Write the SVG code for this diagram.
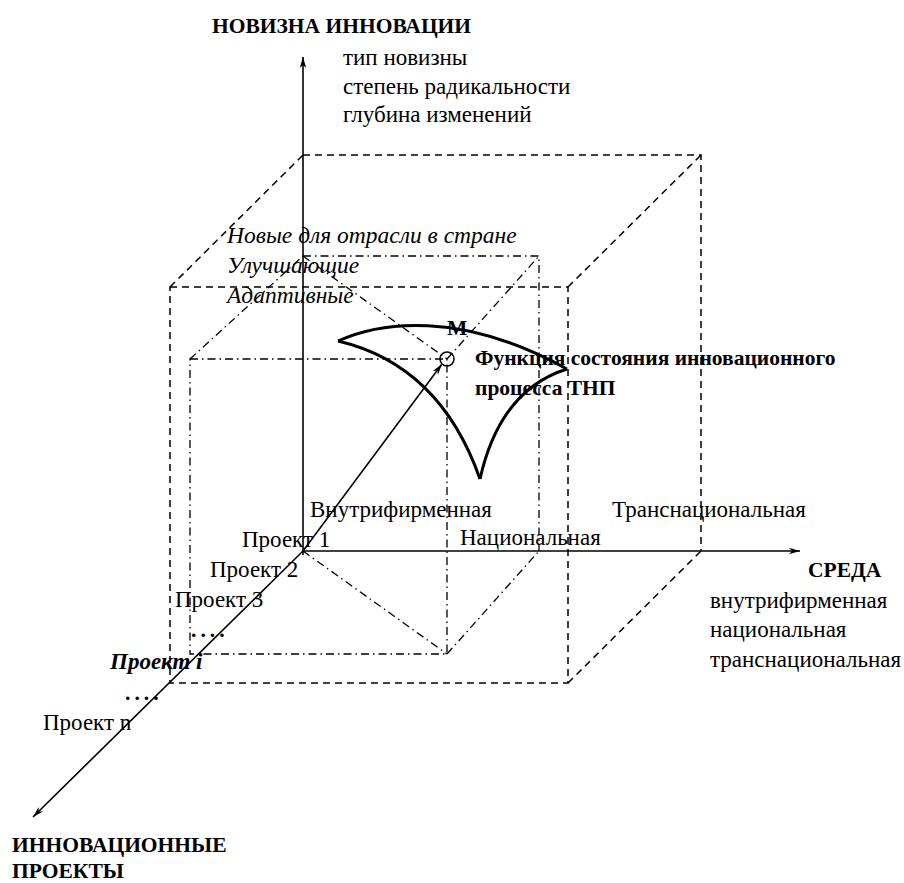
<svg xmlns="http://www.w3.org/2000/svg" width="904" height="883" viewBox="0 0 904 883">
<style>
text{font-family:"Liberation Serif","Times New Roman",serif;font-size:23px;fill:#000}
.b{font-weight:bold;font-size:21.5px}
.i{font-style:italic;font-size:23.5px}
.bi{font-weight:bold;font-style:italic;font-size:23px}
.axis{stroke:#000;stroke-width:1.6;fill:none}
.dash{stroke:#000;stroke-width:1.5;fill:none;stroke-dasharray:7 5}
.dd{stroke:#000;stroke-width:1.3;fill:none;stroke-dasharray:8 4 1.5 4}
.surf{stroke:#000;stroke-width:3;fill:none;stroke-linejoin:miter}
</style>
<defs>
<marker id="ah" markerWidth="12" markerHeight="8" refX="11" refY="4" orient="auto" markerUnits="userSpaceOnUse">
<path d="M0,0.8 L11,4 L0,7.2 L3,4 Z" fill="#000"/>
</marker>
</defs>
<rect width="904" height="883" fill="#fff"/>
<g id="outer-cube">
<path class="dash" d="M170,287 H568 V683 H170 Z"/>
<path class="dash" d="M303,155 H701 V551"/>
<path class="dash" d="M170,287 L303,155 M568,287 L701,155 M568,683 L701,551"/>
</g>
<g id="inner-cube">
<path class="dd" d="M190,359 H447 V654 H190 Z"/>
<path class="dd" d="M303,256 H539 V551"/>
<path class="dd" d="M190,359 L303,256 M447,359 L539,256 M447,654 L539,551"/>
<path class="dd" d="M303,256 L447,359 M303,551 L447,654"/>
</g>
<g id="connectors">
<line class="axis" x1="303" y1="555" x2="303" y2="57" marker-end="url(#ah)"/>
<line class="axis" x1="303" y1="551" x2="800" y2="551" marker-end="url(#ah)"/>
<line class="axis" x1="303" y1="551" x2="33" y2="817" marker-end="url(#ah)"/>
<line class="axis" x1="303" y1="551" x2="442" y2="364" marker-end="url(#ah)"/>
</g>
<g id="surface">
<path class="surf" d="M338,341 C380,322 460,310 567,369"/>
<path class="surf" d="M338,341 Q440,365 480,479"/>
<path class="surf" d="M567,369 Q500,390 480,479"/>
<circle cx="447" cy="359" r="7" fill="none" stroke="#000" stroke-width="1.5"/>
</g>
<g id="axis-y-labels">
<text class="b" x="212" y="33">НОВИЗНА ИННОВАЦИИ</text>
<text x="343" y="65">тип новизны</text>
<text x="343" y="94">степень радикальности</text>
<text x="343" y="122">глубина изменений</text>
<text class="i" x="227" y="243">Новые для отрасли в стране</text>
<text class="i" x="227" y="273">Улучшающие</text>
<text class="i" x="227" y="303">Адаптивные</text>
</g>
<g id="point-m">
<text class="b" x="447" y="335">М</text>
<text class="b" x="475" y="365">Функция состояния инновационного</text>
<text class="b" x="475" y="395">процесса ТНП</text>
</g>
<g id="axis-x-labels">
<text x="310" y="517">Внутрифирменная</text>
<text x="612" y="517">Транснациональная</text>
<text x="460" y="545">Национальная</text>
<text class="b" x="808" y="577">СРЕДА</text>
<text x="710" y="608">внутрифирменная</text>
<text x="710" y="637">национальная</text>
<text x="710" y="667">транснациональная</text>
</g>
<g id="axis-z-labels">
<text x="242" y="547">Проект 1</text>
<text x="210" y="577">Проект 2</text>
<text x="175" y="607">Проект 3</text>
<text class="b" x="191" y="637" letter-spacing="4">....</text>
<text class="bi" x="110" y="669">Проект i</text>
<text class="b" x="125" y="700" letter-spacing="4">....</text>
<text x="43" y="730">Проект n</text>
<text class="b" x="12" y="852">ИННОВАЦИОННЫЕ</text>
<text class="b" x="12" y="878">ПРОЕКТЫ</text>
</g>
</svg>
